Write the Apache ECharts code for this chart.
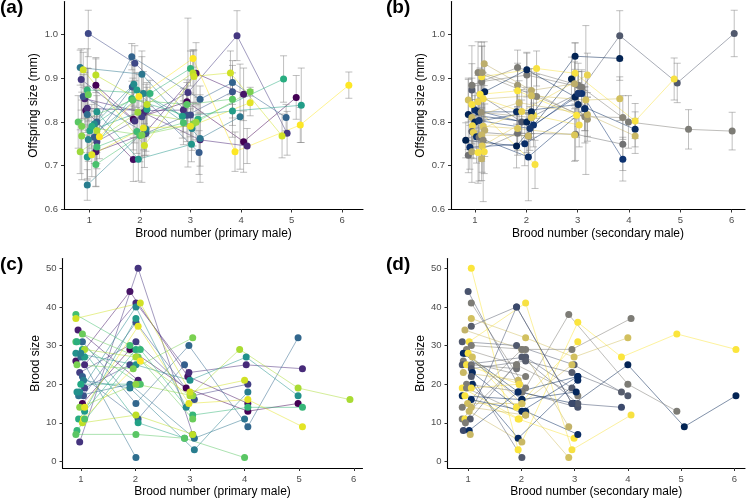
<!DOCTYPE html>
<html>
<head>
<meta charset="utf-8">
<script src="https://cdn.jsdelivr.net/npm/echarts@6/dist/echarts.min.js"></script>
<style>
html, body { margin: 0; padding: 0; background: #fff; }
#main { width: 750px; height: 499px; }
</style>
</head>
<body>
<div id="main"></div>
<script>
var chart = echarts.init(document.getElementById('main'));

// tick labels
var broodTicks = [1, 2, 3, 4, 5, 6];
var sizeTicks = [0.6, 0.7, 0.8, 0.9, 1.0];
var countTicks = [0, 10, 20, 30, 40, 50];

// (a) offspring size by brood with primary male: [colour, [[brood (jittered), mean, half error bar], ...]]
var offspringPrimary = [
    [0.00, [[1.13,.884,.06],[1.87,.806,.07],[2.93,.846,.05],[4.05,.755,.07],[5.09,.856,.05]]],
    [0.03, [[0.93,.826,.05],[1.87,.714,.05]]],
    [0.06, [[1.13,.732,.08],[2.09,.773,.05],[3.11,.911,.07],[4.05,.863,.06]]],
    [0.10, [[0.91,.853,.06],[2.07,.821,.05],[3.19,.759,.06],[4.12,.745,.04]]],
    [0.13, [[0.96,.831,.05],[2.12,.826,.06],[2.86,.827,.05]]],
    [0.16, [[0.84,.897,.07],[1.90,.802,.05],[2.95,.867,.17],[3.92,.997,.057],[4.91,.774,.05]]],
    [0.19, [[1.15,.755,.05],[2.04,.812,.15]]],
    [0.22, [[0.98,1.002,.053],[1.90,.934,.04],[3.00,.816,.05]]],
    [0.26, [[0.88,.858,.05],[2.12,.774,.05],[2.93,.815,.06],[3.83,.869,.06]]],
    [0.29, [[1.10,.765,.06],[1.85,.880,.05],[3.17,.730,.05]]],
    [0.32, [[1.15,.800,.06],[1.84,.949,.03],[3.19,.852,.03],[3.83,.890,.05],[4.89,.810,.03]]],
    [0.36, [[0.96,.817,.15]]],
    [0.39, [[0.82,.924,.04],[2.04,.909,.04],[3.19,.762,.10],[3.98,.812,.12]]],
    [0.42, [[0.96,.656,.035],[2.12,.783,.05]]],
    [0.45, [[0.98,.760,.05],[2.07,.865,.05],[3.03,.785,.05]]],
    [0.48, [[1.10,.795,.05],[1.88,.886,.05]]],
    [0.52, [[1.15,.823,.05],[1.97,.715,.05],[3.02,.749,.04]]],
    [0.55, [[0.96,.720,.05],[1.94,.873,.04],[2.84,.813,.05],[3.83,.825,.06],[5.19,.838,.085]]],
    [0.58, [[1.01,.780,.05],[2.14,.829,.05]]],
    [0.62, [[1.05,.790,.05],[1.84,.853,.04],[3.15,.806,.05],[4.84,.898,.053]]],
    [0.65, [[0.96,.873,.05],[2.20,.865,.03],[3.00,.922,.04]]],
    [0.68, [[1.15,.743,.05],[1.94,.778,.05]]],
    [0.71, [[1.13,.703,.05],[2.00,.769,.06],[2.86,.798,.05]]],
    [0.74, [[0.78,.800,.06],[1.86,.850,.05],[2.93,.840,.05],[3.83,.852,.06]]],
    [0.77, [[0.98,.862,.06]]],
    [0.80, [[0.85,.790,.06],[2.04,.770,.05],[3.05,.795,.05],[4.18,.869,.01]]],
    [0.83, [[0.85,.768,.10]]],
    [0.85, [[0.82,.732,.05],[1.96,.822,.05],[3.11,.799,.04]]],
    [0.88, [[1.15,.780,.05]]],
    [0.90, [[1.13,.907,.04],[2.14,.840,.05],[3.05,.912,.05]]],
    [0.93, [[0.88,.919,.04],[2.09,.746,.05],[3.07,.904,.06],[3.79,.912,.05],[4.81,.768,.05]]],
    [0.96, [[1.05,.725,.05],[2.07,.786,.05],[3.00,.790,.04],[4.18,.844,.03]]],
    [1.00, [[1.20,.766,.05],[1.98,.858,.05],[3.05,.945,.02],[3.88,.732,.045],[5.17,.793,.04],[6.13,.884,.03]]]
];

// (b) offspring size by brood with secondary male
var offspringSecondary = [
    [0.28, [[0.94,.873,.06],[1.91,.800,.05],[3.01,.865,.05],[3.82,.997,.057],[4.94,.889,.045],[6.05,1.002,.053]]],
    [0.45, [[1.13,.892,.09],[2.01,.907,.05],[3.08,.879,.04],[3.99,.800,.06],[5.16,.783,.045],[6.01,.779,.043]]],
    [0.95, [[1.13,.903,.07],[2.20,.922,.04],[2.95,.911,.07],[4.12,.802,.04],[4.88,.898,.048]]],
    [0.02, [[0.87,.817,.08],[2.01,.800,.07],[2.95,.950,.03],[3.82,.945,.05]]],
    [0.10, [[1.00,.827,.06],[2.14,.793,.05],[3.08,.865,.05],[3.88,.715,.05]]],
    [0.06, [[1.06,.823,.06],[1.81,.823,.05],[3.01,.840,.05],[4.12,.783,.04]]],
    [0.00, [[0.82,.758,.04],[1.81,.745,.05],[2.88,.898,.05]]],
    [0.40, [[0.87,.724,.04],[1.83,.774,.05],[2.96,.772,.06],[3.88,.749,.06]]],
    [0.08, [[0.90,.742,.05],[1.97,.750,.05],[3.14,.830,.05]]],
    [0.45, [[0.94,.884,.09],[1.83,.924,.04],[3.01,.884,.05]]],
    [0.50, [[1.06,.913,.07],[2.20,.858,.05],[3.14,.812,.06],[3.88,.810,.05]]],
    [0.58, [[1.14,.913,.06],[1.83,.884,.05],[3.19,.806,.05]]],
    [0.68, [[1.18,.933,.05],[2.10,.872,.05],[2.94,.887,.05]]],
    [0.03, [[1.19,.869,.06],[2.01,.919,.04],[2.95,.857,.05]]],
    [0.98, [[1.10,.863,.06],[1.83,.871,.05],[2.98,.815,.05]]],
    [0.92, [[1.16,.853,.06],[2.14,.815,.05],[3.03,.793,.05]]],
    [0.88, [[1.06,.846,.06]]],
    [0.75, [[0.87,.850,.05],[2.10,.860,.05],[3.16,.850,.17],[3.82,.853,.05]]],
    [0.96, [[0.94,.840,.06],[2.17,.703,.055]]],
    [0.55, [[1.12,.822,.07],[2.10,.810,.05]]],
    [0.72, [[0.94,.810,.06],[1.86,.844,.05],[3.19,.817,.05],[4.12,.768,.04]]],
    [0.04, [[1.00,.800,.06],[2.10,.823,.05]]],
    [0.12, [[1.08,.803,.06],[2.07,.785,.05],[3.01,.865,.05]]],
    [0.90, [[0.95,.791,.06]]],
    [0.35, [[0.94,.778,.06],[2.04,.768,.05]]],
    [0.85, [[0.97,.776,.06],[1.91,.824,.05],[3.19,.907,.05]]],
    [0.78, [[1.16,.790,.06],[1.83,.785,.05],[2.94,.770,.06]]],
    [0.68, [[1.19,.781,.06]]],
    [0.07, [[1.03,.766,.06],[2.04,.720,.10],[3.14,.830,.05]]],
    [0.42, [[1.08,.765,.10]]],
    [0.72, [[1.13,.770,.06],[2.04,.768,.05]]],
    [0.50, [[1.16,.758,.14]]],
    [0.80, [[1.14,.745,.06],[2.10,.810,.05]]],
    [0.65, [[0.94,.732,.07]]],
    [0.97, [[1.06,.730,.07]]],
    [0.94, [[1.18,.732,.05]]],
    [0.70, [[1.13,.716,.05]]]
];

// (c) brood size by brood with primary male: [colour, [[brood (jittered), size], ...]]
var broodPrimary = [
    [0.00, [[1.03,15],[1.90,29],[2.93,19],[4.06,13],[4.98,15]]],
    [0.05, [[0.91,26],[1.90,44],[2.96,22],[4.06,15]]],
    [0.08, [[0.95,34],[2.05,21]]],
    [0.12, [[1.07,25],[2.01,41],[2.98,23],[4.03,25],[5.06,24]]],
    [0.15, [[0.98,5],[2.05,50],[3.05,7]]],
    [0.18, [[0.98,23],[2.01,31],[3.05,17],[4.06,20]]],
    [0.20, [[1.07,19],[1.90,25]]],
    [0.25, [[1.05,17],[2.01,36],[3.08,16]]],
    [0.30, [[1.03,22],[2.05,11],[2.90,25]]],
    [0.33, [[1.03,31],[2.01,15],[2.98,30],[4.06,9],[4.98,32]]],
    [0.36, [[1.00,27],[2.01,1]]],
    [0.38, [[0.96,17],[1.90,20],[3.08,6],[4.00,11]]],
    [0.42, [[1.05,21],[1.90,19],[3.08,3],[4.06,18]]],
    [0.46, [[0.98,18],[2.01,40],[2.93,14]]],
    [0.50, [[0.91,28],[2.01,25],[3.00,21],[4.03,27],[4.98,17]]],
    [0.54, [[1.07,13],[2.01,37]]],
    [0.57, [[1.03,29],[2.05,10],[2.90,6]]],
    [0.60, [[1.00,20],[2.05,20]]],
    [0.62, [[0.96,11],[2.01,29]]],
    [0.66, [[0.93,8],[2.09,29],[3.05,12],[4.06,14],[5.06,14]]],
    [0.70, [[0.91,38],[1.90,30]]],
    [0.72, [[0.91,31],[2.09,20]]],
    [0.74, [[0.91,7],[2.01,7],[2.90,6],[4.00,1]]],
    [0.77, [[1.03,33],[2.05,27],[3.05,11]]],
    [0.80, [[0.93,25],[1.96,24],[3.05,32]]],
    [0.83, [[0.98,14],[2.01,20],[3.05,17]]],
    [0.87, [[1.07,29],[2.01,27],[3.00,17],[3.91,29],[4.98,19],[5.93,16]]],
    [0.90, [[1.03,10],[2.01,12],[3.05,7]]],
    [0.93, [[0.91,37],[2.09,41],[3.00,18],[4.00,21]]],
    [0.96, [[1.07,14],[2.05,35],[2.98,15],[4.06,16],[5.06,9]]],
    [1.00, [[1.05,11],[2.09,26]]],
    [0.55, [[1.07,27]]],
    [0.44, [[1.00,28]]],
    [0.63, [[0.93,31]]],
    [0.72, [[1.07,11]]],
    [0.50, [[0.93,18]]]
];

// (d) brood size by brood with secondary male
var broodSecondary = [
    [0.98, [[1.06,50],[1.94,3],[3.06,36],[3.88,27],[4.92,33],[6.03,29]]],
    [0.02, [[0.94,28],[1.94,18],[2.99,15],[4.00,25],[5.06,9],[6.03,17]]],
    [0.45, [[1.06,41],[2.08,19],[2.89,38],[4.00,20],[4.92,13]]],
    [0.25, [[1.00,44],[2.01,18],[3.06,14]]],
    [0.30, [[1.06,35],[1.91,40],[2.95,15]]],
    [0.75, [[1.06,37],[2.08,32],[2.99,27],[4.00,32]]],
    [0.70, [[0.94,34],[2.01,29],[2.89,9]]],
    [0.28, [[0.89,31],[1.91,30],[2.99,25],[4.00,17]]],
    [0.95, [[1.02,31],[2.08,41],[2.95,3],[4.06,12]]],
    [0.45, [[1.06,30],[2.08,29],[2.95,29],[4.06,37]]],
    [0.48, [[0.97,29],[1.91,25],[3.06,17]]],
    [0.05, [[0.91,28],[2.01,16]]],
    [0.96, [[1.00,28],[1.91,14],[3.06,31]]],
    [0.75, [[1.08,27],[2.01,15],[2.95,25]]],
    [0.45, [[0.91,26],[2.08,22]]],
    [0.28, [[0.89,25],[2.08,27],[2.95,19]]],
    [0.95, [[0.97,25],[1.96,20]]],
    [0.40, [[1.06,25],[1.91,24]]],
    [0.30, [[1.06,24],[2.08,26],[2.95,23],[3.88,18]]],
    [0.72, [[0.91,23],[1.94,21]]],
    [0.05, [[1.08,23],[2.01,13],[3.06,22]]],
    [0.28, [[1.06,22],[2.01,1]]],
    [0.05, [[1.08,20],[1.94,6],[3.06,21]]],
    [0.45, [[0.97,20],[2.01,18]]],
    [0.96, [[0.89,19],[1.96,11]]],
    [0.45, [[0.97,19],[2.08,12]]],
    [0.92, [[1.06,19],[1.96,20]]],
    [0.04, [[0.89,17],[2.01,16],[3.03,18]]],
    [0.97, [[0.94,17],[1.94,11],[2.99,6]]],
    [0.06, [[1.06,16],[2.08,13],[3.06,7]]],
    [0.75, [[0.99,15],[2.01,15],[2.89,1]]],
    [0.45, [[0.89,14],[2.01,29]]],
    [0.72, [[1.06,14],[2.08,12]]],
    [0.72, [[1.02,13],[2.01,5]]],
    [0.45, [[0.89,11],[1.91,25]]],
    [0.95, [[0.94,11]]],
    [0.28, [[1.04,11],[2.01,27],[3.06,15]]],
    [0.45, [[0.95,10]]],
    [0.20, [[0.91,8],[1.91,40],[2.95,15],[3.88,14]]],
    [0.06, [[1.02,8],[1.94,18],[3.06,22]]],
    [0.72, [[1.04,7]]]
];

var viridis = ['#440154','#482475','#414487','#355f8d','#2a788e','#21918c','#22a884','#44bf70','#7ad151','#bddf26','#fde725'];
var cividis = ['#00204d','#0d3270','#3b496c','#575d6d','#707173','#8a8678','#a59c74','#c3b369','#e1cc55','#f0d94a','#fee838'];

function ramp(stops, t) {
    var n = stops.length - 1;
    var p = t * n;
    var i = Math.min(Math.floor(p), n - 1);
    var f = p - i;
    var a = stops[i], b = stops[i + 1];
    var out = '#';
    for (var k = 1; k < 7; k += 2) {
        var va = parseInt(a.substr(k, 2), 16), vb = parseInt(b.substr(k, 2), 16);
        var v = Math.round(va + (vb - va) * f);
        out += (v < 16 ? '0' : '') + v.toString(16);
    }
    return out;
}

var font = 'Liberation Sans, Arial, Helvetica, sans-serif';

// grid boxes in pixels (left, top, width, height) and axis ranges
var grids = [
    {left: 64, top: 1.5, width: 299, height: 208},
    {left: 451, top: 1.5, width: 294, height: 208},
    {left: 62.5, top: 258.6, width: 300, height: 209.7},
    {left: 447.5, top: 258.6, width: 297.5, height: 209.7}
];
var xRange = [[0.5, 6.41], [0.533, 6.26], [0.665, 6.16], [0.613, 6.2]];
var xNames = ['Brood number (primary male)', 'Brood number (secondary male)',
              'Brood number (primary male)', 'Brood number (secondary male)'];

function xAxis(i) {
    return {
        type: 'value', gridIndex: i, min: xRange[i][0], max: xRange[i][1],
        name: xNames[i], nameLocation: 'middle', nameGap: 18,
        nameTextStyle: {color: '#000', fontSize: 12, fontFamily: font},
        axisLine: {show: true, onZero: false, lineStyle: {color: '#000', width: 1.1}},
        axisTick: {show: true, customValues: broodTicks, length: 3, lineStyle: {color: '#333'}},
        axisLabel: {customValues: broodTicks, color: '#4d4d4d', fontSize: 9.5, fontFamily: font, margin: 6},
        splitLine: {show: false}
    };
}
function yAxis(i) {
    var isSize = i < 2;
    return {
        type: 'value', gridIndex: i,
        min: isSize ? 0.6 : -1.7, max: isSize ? 1.075 : 52.5,
        name: isSize ? 'Offspring size (mm)' : 'Brood size',
        nameLocation: 'middle', nameGap: isSize ? 24 : 21, nameRotate: 90,
        nameTextStyle: {color: '#000', fontSize: 12, fontFamily: font},
        axisLine: {show: true, onZero: false, lineStyle: {color: '#000', width: 1.1}},
        axisTick: {show: true, customValues: isSize ? sizeTicks : countTicks, length: 3, lineStyle: {color: '#333'}},
        axisLabel: {
            customValues: isSize ? sizeTicks : countTicks, color: '#4d4d4d', fontSize: 9.5, fontFamily: font, margin: 6,
            formatter: function (v) { return isSize ? v.toFixed(1) : String(Math.round(v)); }
        },
        splitLine: {show: false}
    };
}

function errorBar(params, api) {
    var x = api.value(0);
    var top = api.coord([x, api.value(2)]);
    var bot = api.coord([x, api.value(1)]);
    var w = 3.5;
    var st = {stroke: 'rgba(130,130,130,0.5)', lineWidth: 1};
    return {
        type: 'group',
        children: [
            {type: 'line', shape: {x1: top[0], y1: top[1], x2: bot[0], y2: bot[1]}, style: st},
            {type: 'line', shape: {x1: top[0] - w, y1: top[1], x2: top[0] + w, y2: top[1]}, style: st},
            {type: 'line', shape: {x1: bot[0] - w, y1: bot[1], x2: bot[0] + w, y2: bot[1]}, style: st}
        ]
    };
}

var series = [];
function addPanel(i, fems, pal, withErr) {
    var pts = [], bars = [];
    fems.forEach(function (f) {
        var col = ramp(pal, f[0]);
        series.push({
            type: 'line', xAxisIndex: i, yAxisIndex: i, silent: true, z: 1,
            symbol: 'none', data: f[1].map(function (p) { return [p[0], p[1]]; }),
            lineStyle: {color: col, width: 1, opacity: 0.5}
        });
        f[1].forEach(function (p) {
            pts.push({value: [p[0], p[1]], itemStyle: {color: col, opacity: 1}});
            if (withErr) bars.push([p[0], p[1] - p[2], p[1] + p[2]]);
        });
    });
    if (withErr) {
        series.push({type: 'custom', xAxisIndex: i, yAxisIndex: i, silent: true, z: 2,
            renderItem: errorBar, data: bars, encode: {x: 0, y: [1, 2]}});
    }
    series.push({type: 'scatter', xAxisIndex: i, yAxisIndex: i, z: 3, symbolSize: 7,
        itemStyle: {opacity: 1}, data: pts});
}
addPanel(0, offspringPrimary, viridis, true);
addPanel(1, offspringSecondary, cividis, true);
addPanel(2, broodPrimary, viridis, false);
addPanel(3, broodSecondary, cividis, false);

var letter = {fontSize: 19, fontWeight: 'bold', color: '#000', fontFamily: font};
chart.setOption({
    animation: false,
    backgroundColor: '#fff',
    title: [
        {text: '(a)', left: 0, top: -2, textStyle: letter, padding: 0},
        {text: '(b)', left: 386, top: -2, textStyle: letter, padding: 0},
        {text: '(c)', left: 0, top: 255, textStyle: letter, padding: 0},
        {text: '(d)', left: 386, top: 255, textStyle: letter, padding: 0}
    ],
    grid: grids,
    xAxis: [xAxis(0), xAxis(1), xAxis(2), xAxis(3)],
    yAxis: [yAxis(0), yAxis(1), yAxis(2), yAxis(3)],
    series: series
});
</script>
</body>
</html>
